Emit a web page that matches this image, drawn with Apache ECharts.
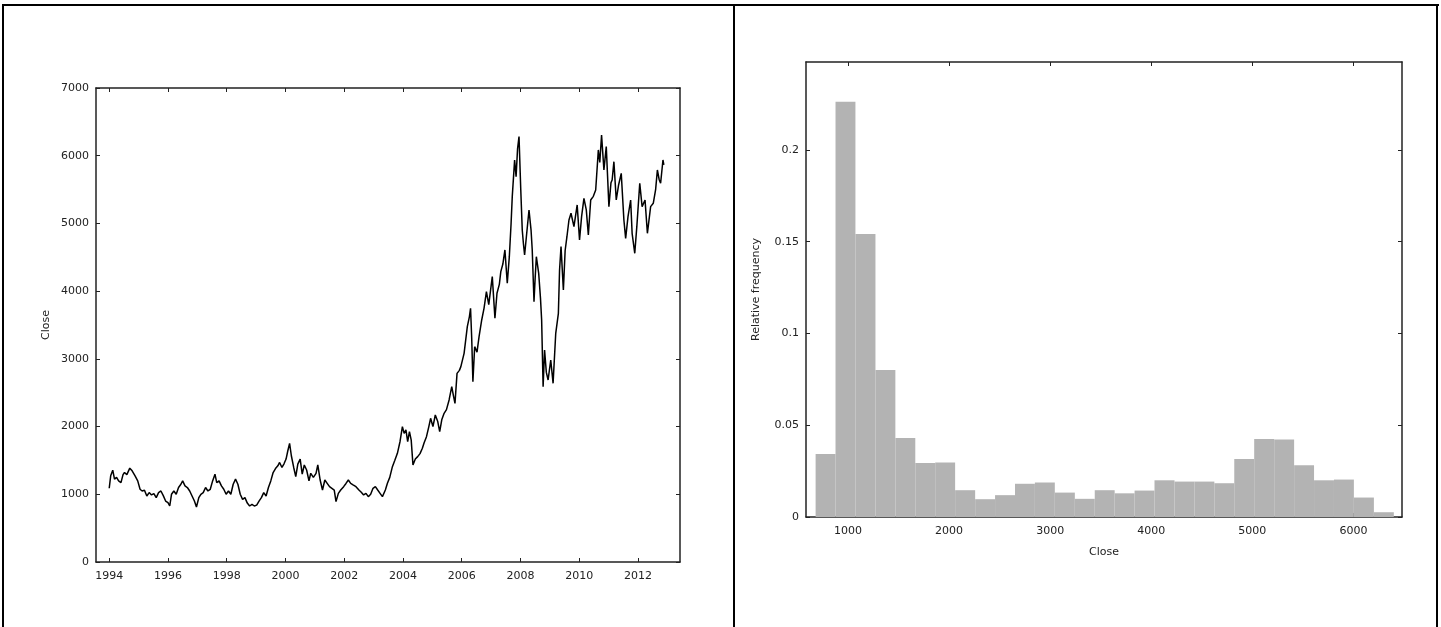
<!DOCTYPE html>
<html>
<head>
<meta charset="utf-8">
<script src="https://cdn.jsdelivr.net/npm/echarts@6/dist/echarts.min.js"></script>
<style>
  html, body { margin: 0; padding: 0; background: #fff; }
  #chart { width: 1441px; height: 627px; }
</style>
</head>
<body>
<div id="chart"></div>
<script>
// left panel: closing price over time (decimal years)
const closeYears = [
  1994.00, 1994.05, 1994.12, 1994.18, 1994.25, 1994.32, 1994.40, 1994.47, 1994.52, 1994.60,
  1994.70, 1994.78, 1994.88, 1994.97, 1995.05, 1995.12, 1995.20, 1995.28, 1995.36, 1995.44,
  1995.52, 1995.60, 1995.68, 1995.76, 1995.84, 1995.92, 1996.00, 1996.06, 1996.12, 1996.20,
  1996.28, 1996.36, 1996.44, 1996.50, 1996.58, 1996.66, 1996.74, 1996.82, 1996.90, 1996.97,
  1997.05, 1997.12, 1997.20, 1997.28, 1997.36, 1997.44, 1997.52, 1997.60, 1997.66, 1997.74,
  1997.82, 1997.90, 1997.98, 1998.06, 1998.14, 1998.22, 1998.30, 1998.38, 1998.46, 1998.54,
  1998.62, 1998.70, 1998.78, 1998.86, 1998.94, 1999.02, 1999.10, 1999.18, 1999.26, 1999.34,
  1999.42, 1999.50, 1999.58, 1999.66, 1999.74, 1999.80, 1999.88, 1999.95, 2000.02, 2000.08,
  2000.14, 2000.20, 2000.28, 2000.35, 2000.42, 2000.50, 2000.57, 2000.64, 2000.72, 2000.80,
  2000.86, 2000.95, 2001.04, 2001.10, 2001.18, 2001.26, 2001.34, 2001.42, 2001.50, 2001.58,
  2001.66, 2001.72, 2001.80, 2001.88, 2001.98, 2002.06, 2002.14, 2002.22, 2002.30, 2002.40,
  2002.50, 2002.58, 2002.66, 2002.74, 2002.82, 2002.90, 2002.98, 2003.06, 2003.14, 2003.22,
  2003.30, 2003.40, 2003.47, 2003.55, 2003.64, 2003.72, 2003.81, 2003.90, 2003.98, 2004.04,
  2004.10, 2004.16, 2004.22, 2004.28, 2004.34, 2004.42, 2004.50, 2004.58, 2004.66, 2004.72,
  2004.80, 2004.88, 2004.94, 2005.02, 2005.10, 2005.18, 2005.25, 2005.32, 2005.40, 2005.48,
  2005.57, 2005.66, 2005.72, 2005.77, 2005.84, 2005.92, 2005.97, 2006.08, 2006.19, 2006.26,
  2006.30, 2006.34, 2006.38, 2006.44, 2006.52, 2006.59, 2006.68, 2006.76, 2006.84, 2006.92,
  2007.04, 2007.13, 2007.20, 2007.28, 2007.33, 2007.40, 2007.47, 2007.55, 2007.62, 2007.68,
  2007.72, 2007.80, 2007.85, 2007.90, 2007.95, 2008.01, 2008.06, 2008.10, 2008.14, 2008.20,
  2008.29, 2008.36, 2008.40, 2008.46, 2008.50, 2008.54, 2008.62, 2008.68, 2008.72, 2008.77,
  2008.82, 2008.88, 2008.94, 2009.03, 2009.11, 2009.20, 2009.29, 2009.33, 2009.38, 2009.46,
  2009.52, 2009.58, 2009.65, 2009.72, 2009.82, 2009.93, 2010.01, 2010.08, 2010.16, 2010.24,
  2010.31, 2010.39, 2010.48, 2010.56, 2010.65, 2010.70, 2010.76, 2010.84, 2010.92, 2011.01,
  2011.08, 2011.12, 2011.18, 2011.26, 2011.34, 2011.43, 2011.52, 2011.58, 2011.66, 2011.75,
  2011.80, 2011.89, 2011.96, 2012.06, 2012.14, 2012.24, 2012.32, 2012.43, 2012.52, 2012.60,
  2012.66, 2012.72, 2012.77, 2012.85, 2012.88
];
const closeValues = [
  1089, 1272, 1356, 1223, 1250, 1198, 1173, 1290, 1321, 1290,
  1386, 1346, 1272, 1198, 1074, 1049, 1060, 975, 1025, 990,
  1010, 950, 1025, 1049, 980, 900, 876, 827, 1000, 1049,
  1000, 1100, 1148, 1198, 1124, 1100, 1049, 975, 900, 812,
  950, 1000, 1025, 1100, 1049, 1074, 1198, 1297, 1173, 1198,
  1124, 1074, 1000, 1049, 1000, 1148, 1223, 1148, 1000, 925,
  950, 870, 827, 851, 827, 840, 900, 950, 1025, 975,
  1100, 1198, 1321, 1380, 1420, 1470, 1396, 1450, 1520, 1643,
  1752, 1569, 1396, 1260, 1445, 1520, 1297, 1433, 1359, 1198,
  1310, 1250, 1310, 1433, 1211, 1063, 1211, 1162, 1113, 1088,
  1063, 891, 1014, 1063, 1113, 1160, 1211, 1162, 1140, 1113,
  1063, 1030, 990, 1014, 965, 1000, 1088, 1113, 1063, 1014,
  965, 1063, 1162, 1250, 1408, 1500, 1605, 1780, 1999, 1900,
  1950, 1777, 1925, 1800, 1433, 1520, 1556, 1600, 1679, 1760,
  1851, 2000, 2122, 2000, 2171, 2080, 1925, 2100, 2196, 2250,
  2393, 2590, 2450, 2343, 2786, 2830, 2885, 3082, 3476, 3620,
  3746, 3300, 2663, 3180, 3100, 3328, 3574, 3750, 3993, 3800,
  4214, 3599, 3968, 4100, 4288, 4400, 4608, 4116, 4509, 5000,
  5396, 5937, 5691, 6100, 6282, 5494, 4903, 4700, 4534, 4800,
  5199, 4900, 4608, 3845, 4200, 4509, 4263, 3900, 3574, 2590,
  3131, 2800, 2688, 2983, 2639, 3377, 3673, 4313, 4657, 4017,
  4600, 4800, 5051, 5150, 4952, 5273, 4756, 5100, 5371, 5200,
  4829, 5346, 5400, 5494, 6085, 5900, 6306, 5789, 6134, 5248,
  5600, 5642, 5912, 5346, 5568, 5740, 5051, 4780, 5100, 5346,
  4854, 4559, 4952, 5593, 5248, 5346, 4854, 5248, 5297, 5500,
  5789, 5650, 5593, 5937, 5863
];
const yearTicks = [1994, 1996, 1998, 2000, 2002, 2004, 2006, 2008, 2010, 2012];

// right panel: histogram of Close
const binEdges = [
  680, 877, 1074, 1272, 1469, 1666, 1863, 2060, 2258, 2455,
  2652, 2849, 3046, 3244, 3441, 3638, 3835, 4032, 4230, 4427,
  4624, 4821, 5018, 5216, 5413, 5610, 5807, 6004, 6202, 6399
];
const relFreq = [
  0.0343, 0.2262, 0.1542, 0.0801, 0.0431, 0.0294, 0.0297, 0.0146, 0.0097, 0.0119,
  0.0181, 0.0188, 0.0133, 0.0099, 0.0146, 0.0129, 0.0144, 0.0200, 0.0193, 0.0193,
  0.0184, 0.0316, 0.0425, 0.0422, 0.0282, 0.0200, 0.0204, 0.0106, 0.0026
];
const closeTicks = [1000, 2000, 3000, 4000, 5000, 6000];
const freqTicks = [0, 0.05, 0.1, 0.15, 0.2];

const lineData = closeYears.map((y, i) => [y, closeValues[i]]);
const histData = relFreq.map((h, i) => [binEdges[i], binEdges[i + 1], h]);

const axisColor = '#222';
const labelStyle = { color: '#222', fontFamily: 'DejaVu Sans', fontSize: 11 };
const plain = v => String(v);

// gnuplot style: ticks inside, mirrored on the opposite side
function mirrorAxis(base, pos, gridIndex, ticks) {
  return Object.assign({}, base, {
    gridIndex: gridIndex,
    position: pos,
    axisLine: { show: true, onZero: false, lineStyle: { color: axisColor, width: 1.5 } },
    axisTick: { show: true, inside: true, length: 4, lineStyle: { color: axisColor }, customValues: ticks },
    axisLabel: { show: false },
    splitLine: { show: false },
    name: ''
  });
}

const leftX = { type: 'value', min: 1993.55, max: 2013.43 };
const leftY = { type: 'value', min: 0, max: 7000, interval: 1000 };
const rightX = { type: 'value', min: 585, max: 6480 };
const rightY = { type: 'value', min: 0, max: 0.2479 };

const chart = echarts.init(document.getElementById('chart'));
chart.setOption({
  animation: false,
  backgroundColor: '#fff',
  grid: [
    { left: 96, top: 88, width: 584, height: 474 },
    { left: 806, top: 62, width: 596, height: 455 }
  ],
  xAxis: [
    Object.assign({}, leftX, {
      gridIndex: 0, position: 'bottom',
      axisLine: { show: true, onZero: false, lineStyle: { color: axisColor, width: 1.5 } },
      axisTick: { show: true, inside: true, length: 4, lineStyle: { color: axisColor }, customValues: yearTicks },
      axisLabel: Object.assign({ margin: 9, formatter: plain, customValues: yearTicks }, labelStyle),
      splitLine: { show: false }
    }),
    mirrorAxis(leftX, 'top', 0, yearTicks),
    Object.assign({}, rightX, {
      gridIndex: 1, position: 'bottom',
      name: 'Close', nameLocation: 'middle', nameGap: 30,
      nameTextStyle: labelStyle,
      axisLine: { show: true, onZero: false, lineStyle: { color: axisColor, width: 1.5 } },
      axisTick: { show: true, inside: true, length: 4, lineStyle: { color: axisColor }, customValues: closeTicks },
      axisLabel: Object.assign({ margin: 9, formatter: plain, customValues: closeTicks }, labelStyle),
      splitLine: { show: false }
    }),
    mirrorAxis(rightX, 'top', 1, closeTicks)
  ],
  yAxis: [
    Object.assign({}, leftY, {
      gridIndex: 0, position: 'left',
      name: 'Close', nameLocation: 'middle', nameGap: 44, nameRotate: 90,
      nameTextStyle: labelStyle,
      axisLine: { show: true, onZero: false, lineStyle: { color: axisColor, width: 1.5 } },
      axisTick: { show: true, inside: true, length: 4, lineStyle: { color: axisColor } },
      axisLabel: Object.assign({ margin: 7, formatter: plain }, labelStyle),
      splitLine: { show: false }
    }),
    mirrorAxis(leftY, 'right', 0),
    Object.assign({}, rightY, {
      gridIndex: 1, position: 'left',
      name: 'Relative frequency', nameLocation: 'middle', nameGap: 44, nameRotate: 90,
      nameTextStyle: labelStyle,
      axisLine: { show: true, onZero: false, lineStyle: { color: axisColor, width: 1.5 } },
      axisTick: { show: true, inside: true, length: 4, lineStyle: { color: axisColor }, customValues: freqTicks },
      axisLabel: Object.assign({ margin: 7, formatter: plain, customValues: freqTicks }, labelStyle),
      splitLine: { show: false }
    }),
    mirrorAxis(rightY, 'right', 1, freqTicks)
  ],
  series: [
    {
      type: 'line',
      xAxisIndex: 0, yAxisIndex: 0,
      data: lineData,
      showSymbol: false,
      lineStyle: { color: '#000', width: 1.5 },
      z: 3
    },
    {
      type: 'custom',
      xAxisIndex: 2, yAxisIndex: 2,
      data: histData,
      encode: { x: [0, 1], y: 2 },
      renderItem: function (params, api) {
        const topLeft = api.coord([api.value(0), api.value(2)]);
        const bottomRight = api.coord([api.value(1), 0]);
        return {
          type: 'rect',
          shape: {
            x: topLeft[0], y: topLeft[1],
            width: bottomRight[0] - topLeft[0],
            height: bottomRight[1] - topLeft[1]
          },
          style: { fill: '#b3b3b3' }
        };
      },
      z: 1
    }
  ],
  // panel frames
  graphic: [
    { type: 'rect', shape: { x: 2, y: 4, width: 1437, height: 2 }, style: { fill: '#000' }, silent: true },
    { type: 'rect', shape: { x: 2, y: 4, width: 2, height: 640 }, style: { fill: '#000' }, silent: true },
    { type: 'rect', shape: { x: 733, y: 4, width: 2, height: 640 }, style: { fill: '#000' }, silent: true },
    { type: 'rect', shape: { x: 1436, y: 4, width: 2, height: 640 }, style: { fill: '#000' }, silent: true }
  ]
});
</script>
</body>
</html>
